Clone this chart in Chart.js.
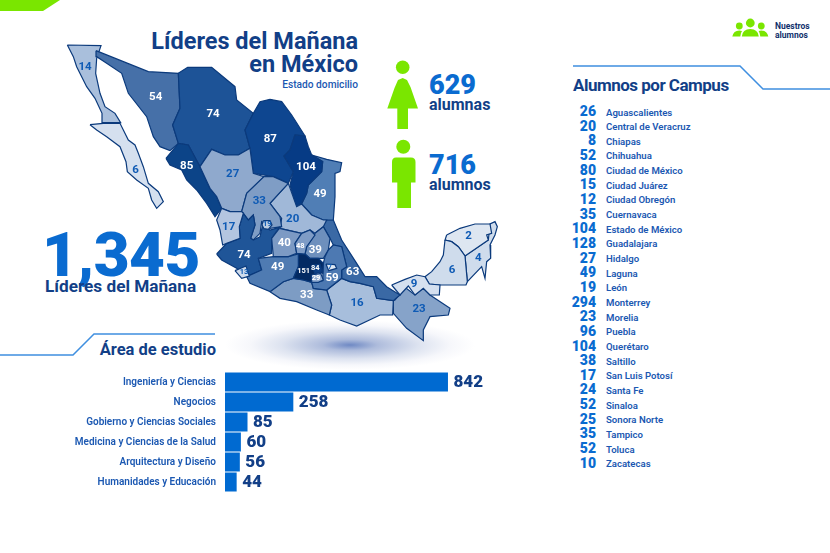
<!DOCTYPE html>
<html lang="es">
<head>
<meta charset="utf-8">
<title>Líderes del Mañana en México</title>
<script src="https://cdn.jsdelivr.net/npm/chart.js@4"></script>
<style>
    body { margin: 0; background: #fff; width: 830px; height: 553px; overflow: hidden; position: relative;
           font-family: Roboto, sans-serif; font-weight: 700; }
    canvas, svg, .txt, #shadow { position: absolute; }
    .txt { white-space: nowrap; line-height: 1; }
    .navy { color: #123f87; }
    .blue { color: #0a6bd0; }
    #shadow { left: 225px; top: 320px; width: 250px; height: 50px;
              background: radial-gradient(ellipse closest-side, #6f89c4 0%, #aebcdc 22%, #dde3f0 55%, #f6f7fb 80%, #fff 100%); }
    #campus { position: absolute; left: 560px; top: 104.5px; }
    .row { height: 14.67px; position: relative; }
    .row b { position: absolute; top: -0.5px; right: -36px; width: 40px; text-align: right; font-size: 14px; font-weight: 900; line-height: 14px; color: #0a6bd0; }
    .row span { position: absolute; left: 46px; font-size: 9.6px; font-weight: 600; line-height: 15px; color: #1b58b2; white-space: nowrap; }
</style>
</head>
<body>
<svg style="left:0;top:0" width="830" height="553">
    <polygon points="0,0 60,0 43,11 0,11" fill="#7ae600"/>
    <polyline points="0,355 73,355 94,334 215,334" fill="none" stroke="#3f8fe0" stroke-width="1.5"/>
    <polyline points="573,66 740,66 763,89 830,89" fill="none" stroke="#3f8fe0" stroke-width="1.5"/>
    <g fill="#7ae600">
        <circle cx="402.7" cy="67.3" r="6.8"/>
        <polygon points="402.7,78 398,80 394.5,88 387.3,108.5 397.3,108.5 397.3,129 408,129 408,108.5 418,108.5 410.5,87 407,80"/>
        <circle cx="403.3" cy="146.7" r="7"/>
        <path d="M396 157.5 H411 Q415.5 157.5 415.5 162 V182.5 H411 V208 H397.3 V182.5 H392 V162 Q392 157.5 396 157.5 Z"/>
        <circle cx="739.3" cy="26" r="3.4"/>
        <circle cx="750.3" cy="23" r="4.4"/>
        <circle cx="761.3" cy="26" r="3.4"/>
        <path d="M732.3 36.5 Q733.5 30.5 739.3 30.5 L742 31 Q740.5 33 740.3 36.5 Z"/>
        <path d="M741.8 36.5 Q742.5 29 750.3 29 Q758 29 758.8 36.5 Z"/>
        <path d="M768.3 36.5 Q767 30.5 761.3 30.5 L758.6 31 Q760 33 760.3 36.5 Z"/>
    </g>
</svg>
<div id="shadow"></div>

<div class="txt navy" style="right:472px;top:30px;font-size:23.5px">Líderes del Mañana</div>
<div class="txt navy" style="right:472px;top:53px;font-size:23.5px">en México</div>
<div class="txt" style="right:472px;top:80px;font-size:10.2px;font-weight:500;color:#1b58b2">Estado domicilio</div>

<div class="txt blue" style="left:42px;top:224px;font-size:62px;font-weight:900;letter-spacing:-0.5px">1,345</div>
<div class="txt navy" style="left:45px;top:278px;font-size:17.2px">Líderes del Mañana</div>

<div class="txt blue" style="left:429px;top:72px;font-size:27px;font-weight:900">629</div>
<div class="txt navy" style="left:429px;top:97px;font-size:16px">alumnas</div>
<div class="txt blue" style="left:429px;top:152px;font-size:27px;font-weight:900">716</div>
<div class="txt navy" style="left:429px;top:177px;font-size:16px">alumnos</div>

<div class="txt" style="left:775px;top:22px;font-size:8.5px;color:#10306b;line-height:8.5px">Nuestros<br>alumnos</div>

<div class="txt navy" style="right:614px;top:342px;font-size:16.5px">Área de estudio</div>
<div class="txt navy" style="left:573px;top:77px;font-size:17px;letter-spacing:-0.5px">Alumnos por Campus</div>

<div id="campus"></div>

<canvas id="mapChart" width="830" height="553" style="left:0;top:0"></canvas>
<canvas id="areaChart" width="520" height="120" style="left:0;top:372px"></canvas>

<script>
const areaLabels = ["Ingeniería y Ciencias", "Negocios", "Gobierno y Ciencias Sociales",
    "Medicina y Ciencias de la Salud", "Arquitectura y Diseño", "Humanidades y Educación"];
const areaValues = [842, 258, 85, 60, 56, 44];

const campusNames = ["Aguascalientes", "Central de Veracruz", "Chiapas", "Chihuahua", "Ciudad de México",
    "Ciudad Juárez", "Ciudad Obregón", "Cuernavaca", "Estado de México", "Guadalajara", "Hidalgo", "Laguna",
    "León", "Monterrey", "Morelia", "Puebla", "Querétaro", "Saltillo", "San Luis Potosí", "Santa Fe", "Sinaloa",
    "Sonora Norte", "Tampico", "Toluca", "Zacatecas"];
const campusValues = [26, 20, 8, 52, 80, 15, 12, 35, 104, 128, 27, 49, 19, 294, 23, 96, 104, 38, 17, 24, 52, 25, 35, 52, 10];

// estados, small ones first so they end up on top
const stateNames = ["Ags", "Col", "Tlax", "CDMX", "Mor", "Qro", "Nay", "Edomex", "Pue", "Hgo", "Gto", "Mich", "Jal", "Zac",
    "Dgo", "SLP", "NL", "Tamps", "Coah", "Sin", "Chih", "Son", "BC", "BCS", "Ver", "Gro", "Oax", "Tab", "Chis", "Camp", "Yuc", "QRoo"];
const stateValues = [19, 13, 7, 84, 29, 48, 17, 151, 59, 39, 40, 49, 74, 33, 27, 20, 104, 49, 87, 85, 74, 54, 14, 6, 63, 33, 16, 9, 23, 6, 2, 4];
const stateFills = ["#b9cbe2", "#d0dcec", "#dfe8f3", "#0c3f85", "#90abd0", "#7e9cc6", "#b3c5e0", "#032a63", "#4d79b2", "#6e90bd",
    "#7c9ac4", "#4f7bb2", "#1f5598", "#7f9dc5", "#8fa9cd", "#a0b8d8", "#063b85", "#507eb5", "#0e4690", "#0c4488", "#1d5397",
    "#4670a8", "#a9bfdc", "#d5e0ef", "#3a69a5", "#7d9cc4", "#a7bedc", "#d5e0ef", "#86a3c9", "#cfdcec", "#dde6f1", "#cfdcec"];
// where each state's number sits, same units as the outlines
const stateLabelX = [682, 612, 870, 826, 828, 781, 566, 791, 876, 826, 733, 713, 612, 658, 578, 758, 798, 840, 691, 440, 519, 347, 135, 287, 938, 800, 951, 1122, 1137, 1236, 1286, 1315];
const stateLabelY = [583, 725, 710, 714, 743, 649, 591, 724, 745, 661, 640, 711, 676, 514, 432, 568, 412, 492, 327, 408, 253, 201, 112, 421, 727, 796, 819, 762, 837, 720, 619, 685];
const smallStates = ["Ags", "Col", "Tlax", "CDMX", "Mor", "Qro", "Edomex"];
const darkTextStates = ["Ags", "Col", "Tlax", "Nay", "Dgo", "SLP", "Zac", "BC", "BCS", "Oax", "Tab", "Chis", "Camp", "Yuc", "QRoo"];

// state outlines as [x, y] pairs on the map's own grid
const stateOutlines = [
    [[670,572],[690,572],[696,585],[685,598],[672,596],[666,585]],
    [[585,722],[618,708],[628,738],[605,745]],
    [[858,702],[885,704],[890,715],[866,722]],
    [[815,705],[840,703],[847,725],[825,731]],
    [[815,735],[842,730],[850,750],[835,757],[815,757]],
    [[785,610],[810,600],[825,615],[800,650],[795,672],[770,670],[765,640]],
    [[545,535],[570,545],[605,545],[610,550],[598,590],[600,625],[560,640],[548,645],[540,600],[530,570]],
    [[775,670],[795,672],[810,685],[835,685],[850,700],[848,730],[825,725],[815,757],[790,750],[760,745],[775,710]],
    [[865,660],[880,645],[905,650],[920,710],[905,720],[905,745],[860,780],[820,775],[815,757],[848,752],[850,700],[855,680]],
    [[825,610],[850,590],[870,625],[865,660],[850,685],[835,685],[810,685],[795,672],[800,650]],
    [[718,595],[785,610],[765,640],[770,670],[745,680],[700,680],[695,625]],
    [[655,685],[700,680],[745,680],[775,672],[785,680],[775,710],[760,745],[730,755],[690,785],[630,760],[620,740],[665,720]],
    [[530,672],[560,640],[600,625],[598,590],[610,550],[625,570],[640,555],[645,585],[632,625],[640,630],[660,620],[668,585],[690,600],[718,592],[695,625],[695,670],[655,685],[665,720],[620,740],[590,715],[545,690]],
    [[620,490],[672,440],[700,440],[745,460],[690,520],[720,560],[725,590],[690,595],[665,575],[660,610],[640,630],[632,625],[645,585],[640,555],[625,570],[610,550],[605,545]],
    [[480,410],[515,358],[555,375],[595,375],[630,355],[640,430],[672,440],[620,490],[605,545],[570,545],[545,535],[530,500],[510,475]],
    [[745,460],[770,530],[785,522],[815,555],[850,570],[860,570],[850,590],[825,610],[810,600],[785,610],[720,595],[725,565],[690,520]],
    [[765,315],[795,318],[805,350],[815,375],[848,395],[845,425],[805,465],[800,490],[785,520],[767,530],[760,500],[750,465],[760,425],[732,378],[750,360]],
    [[815,375],[860,388],[905,398],[900,425],[885,430],[885,500],[880,570],[850,570],[815,555],[785,522],[800,490],[805,465],[845,425],[848,395]],
    [[640,250],[660,215],[690,208],[725,215],[755,255],[795,318],[765,315],[750,360],[732,378],[760,425],[745,460],[700,440],[640,430],[630,355],[615,300]],
    [[378,385],[415,340],[445,345],[480,410],[510,475],[530,500],[545,535],[525,560],[500,520],[470,480],[440,450],[425,420],[390,405]],
    [[415,130],[443,112],[515,112],[585,170],[590,210],[640,250],[615,300],[630,355],[595,375],[555,375],[515,358],[480,410],[445,345],[415,340],[398,285],[420,235]],
    [[168,62],[325,125],[415,130],[420,235],[398,285],[415,340],[390,362],[360,350],[340,320],[320,260],[265,190],[245,130],[200,100],[170,80]],
    [[82,45],[183,47],[170,85],[167,130],[180,190],[195,230],[225,250],[242,278],[188,278],[186,250],[165,205],[140,170],[110,110],[100,80]],
    [[150,284],[190,280],[240,280],[265,330],[285,345],[295,370],[310,410],[325,460],[355,485],[370,515],[350,535],[335,510],[325,475],[290,450],[262,425],[258,395],[240,350],[200,320],[170,300]],
    [[855,568],[880,570],[905,630],[950,700],[975,740],[1010,740],[1040,770],[1080,795],[1060,812],[1010,805],[1000,770],[960,760],[930,755],[905,745],[905,720],[920,710],[905,650],[880,645],[870,625],[850,590]],
    [[690,785],[730,755],[760,745],[790,750],[815,757],[820,775],[860,780],[875,825],[868,855],[830,840],[770,815],[720,805]],
    [[860,780],[905,745],[930,755],[960,760],[1000,770],[1010,805],[1060,812],[1058,855],[1020,855],[950,888],[900,870],[868,855],[875,825]],
    [[1055,765],[1095,748],[1130,735],[1155,740],[1168,762],[1200,765],[1198,795],[1170,795],[1150,775],[1125,795],[1105,768],[1080,795]],
    [[1060,812],[1065,810],[1095,772],[1125,795],[1150,775],[1170,795],[1230,835],[1225,855],[1170,860],[1150,900],[1150,932],[1100,895],[1060,850]],
    [[1215,630],[1235,635],[1255,650],[1275,678],[1282,755],[1278,765],[1200,765],[1168,762],[1155,740],[1175,725],[1200,695],[1210,675]],
    [[1220,615],[1260,595],[1305,582],[1350,582],[1355,610],[1340,615],[1345,630],[1275,678],[1255,650],[1235,635],[1215,630]],
    [[1275,678],[1345,630],[1350,582],[1365,575],[1372,590],[1365,615],[1350,645],[1352,685],[1340,695],[1335,745],[1325,710],[1282,755]]
];

document.getElementById("campus").innerHTML = campusNames.map((name, i) =>
    `<div class="row"><b>${campusValues[i]}</b><span>${name}</span></div>`).join("");

const stateLabelPlugin = {
    id: "stateLabels",
    afterDatasetsDraw(chart) {
        const { ctx, scales } = chart;
        ctx.save();
        ctx.textAlign = "center";
        ctx.textBaseline = "middle";
        stateNames.forEach((name, i) => {
            const small = smallStates.includes(name);
            ctx.font = `700 ${small ? 7.5 : 11.5}px Roboto, sans-serif`;
            ctx.fillStyle = darkTextStates.includes(name) ? "#0f5bb5" : "#ffffff";
            ctx.fillText(stateValues[i], scales.x.getPixelForValue(stateLabelX[i]), scales.y.getPixelForValue(stateLabelY[i]));
        });
        ctx.restore();
    },
};

new Chart(document.getElementById("mapChart"), {
    type: "scatter",
    data: {
        datasets: stateOutlines.map((outline, i) => ({
            label: stateNames[i],
            data: [...outline, outline[0]].map(([x, y]) => ({ x, y })),
            showLine: true,
            fill: "shape",
            backgroundColor: stateFills[i],
            borderColor: "#0b3a7c",
            borderWidth: 1.2,
            pointRadius: 0,
            tension: 0,
        })),
    },
    options: {
        responsive: false,
        animation: false,
        layout: { padding: 0 },
        plugins: { legend: { display: false }, tooltip: { enabled: false } },
        scales: {
            x: { display: false, type: "linear", min: -120, max: 2370 },
            y: { display: false, type: "linear", min: -90, max: 1569, reverse: true },
        },
    },
    plugins: [stateLabelPlugin],
});

const barValuePlugin = {
    id: "barValues",
    afterDatasetsDraw(chart) {
        const { ctx } = chart;
        const bars = chart.getDatasetMeta(0).data;
        ctx.save();
        ctx.font = "900 17px Roboto, sans-serif";
        ctx.fillStyle = "#123f87";
        ctx.textBaseline = "middle";
        bars.forEach((bar, i) => ctx.fillText(areaValues[i], bar.x + 5.5, bar.y + 1));
        ctx.restore();
    },
};

new Chart(document.getElementById("areaChart"), {
    type: "bar",
    data: {
        labels: areaLabels,
        datasets: [{
            data: areaValues,
            backgroundColor: "#006ad1",
            barPercentage: 0.95,
            categoryPercentage: 1,
        }],
    },
    options: {
        indexAxis: "y",
        responsive: false,
        animation: false,
        layout: { padding: 0 },
        plugins: { legend: { display: false }, tooltip: { enabled: false } },
        scales: {
            x: { display: false, min: 0, max: 1114 },
            y: {
                afterFit: (scale) => {
                    scale.width = 225;
                    scale.paddingTop = 0;
                    scale.paddingBottom = 0;
                },
                grid: { display: false, drawTicks: false },
                border: { display: false },
                ticks: {
                    padding: 9,
                    autoSkip: false,
                    color: "#1b58b2",
                    font: { family: "Roboto, sans-serif", size: 10, weight: "600" },
                },
            },
        },
    },
    plugins: [barValuePlugin],
});
</script>
</body>
</html>
